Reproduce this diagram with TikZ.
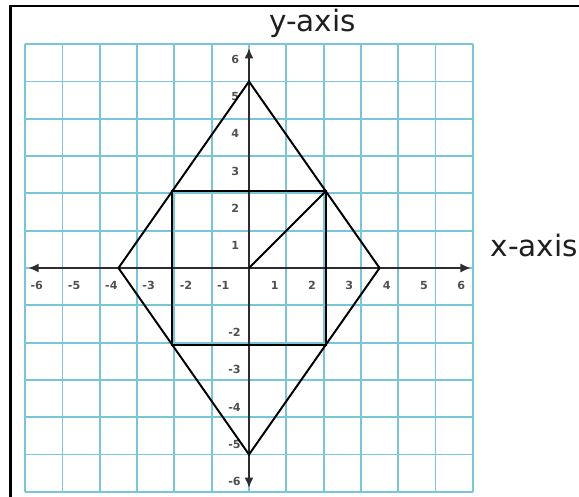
\documentclass[tikz,border=0pt]{standalone}
\usepackage{fontspec}
\setmainfont{DejaVu Sans}
\usepackage{tikz}
\usetikzlibrary{arrows.meta, calc}
\definecolor{gridcyan}{RGB}{120,198,218}
\definecolor{axisgray}{RGB}{45,45,45}
\definecolor{ticklabel}{RGB}{80,80,80}
\tikzset{
  gridline/.style={draw=gridcyan,line width=1.4pt},
  axisline/.style={draw=axisgray,line width=2.2pt,{Latex[length=8pt,width=7pt]}-{Latex[length=8pt,width=7pt]}},
  shapeline/.style={draw=black,line width=1.5pt,line join=miter},
  ticknum/.style={font=\fontsize{8.5}{8.5}\selectfont\bfseries,text=ticklabel,inner sep=0pt},
  axistitle/.style={font=\fontsize{22.5}{22.5}\selectfont,text=black!88,inner sep=0pt},
  framerule/.style={draw=black,line width=2pt}
}

\begin{document}
\begin{tikzpicture}
  %% Page
  \path[use as bounding box,clip] (-6.676,-6.139) rectangle (8.847,7.185);

  %% Frame (left and top only)
  \coordinate (fbl) at (-6.39,-6.4);
  \coordinate (ftl) at (-6.39,7.02);
  \coordinate (ftr) at (9.2,7.02);
  \draw[framerule] (fbl) -- (ftl) -- (ftr);

  %% Grid
  \draw[gridline] (-6,-6) grid (6,6);

  %% Axes
  \coordinate (xl) at (-5.92,0);
  \coordinate (xr) at (5.95,0);
  \coordinate (yb) at (0,-5.9);
  \coordinate (yt) at (0,5.9);
  \draw[axisline] (xl) -- (xr);
  \draw[axisline] (yb) -- (yt);

  %% Tick labels
  \foreach \k in {1,...,6} {
    \node[ticknum] (xp\k) at (\k-0.31,-0.46) {\k};
    \node[ticknum] (xn\k) at (-\k+0.31,-0.46) {-\k};
    \node[ticknum] (yp\k) at (-0.37,\k-0.4) {\k};
  }
  \foreach \k in {2,...,6}
    \node[ticknum] (yn\k) at (-0.39,-\k+0.27) {-\k};

  %% Axis titles
  \node[axistitle,anchor=base] (ytitle) at (1.70,6.335) {y-axis};
  \node[axistitle,anchor=base west] (xtitle) at (6.47,0.30) {x-axis};

  %% Diamond
  \coordinate (top) at (0,5);
  \coordinate (right) at (3.5,0);
  \coordinate (bottom) at (0,-5);
  \coordinate (left) at (-3.5,0);
  \draw[shapeline] (top) -- (right) -- (bottom) -- (left) -- cycle;

  %% Square inside, corners on the diamond
  \coordinate (sq1) at (2.059,2.059);
  \coordinate (sq2) at (-2.059,2.059);
  \coordinate (sq3) at (-2.059,-2.059);
  \coordinate (sq4) at (2.059,-2.059);
  \coordinate (origin) at (0,0);
  \draw[shapeline] (sq1) -- (sq2) -- (sq3) -- (sq4) -- cycle;
  \draw[shapeline] (origin) -- (sq1);
\end{tikzpicture}
\end{document}
